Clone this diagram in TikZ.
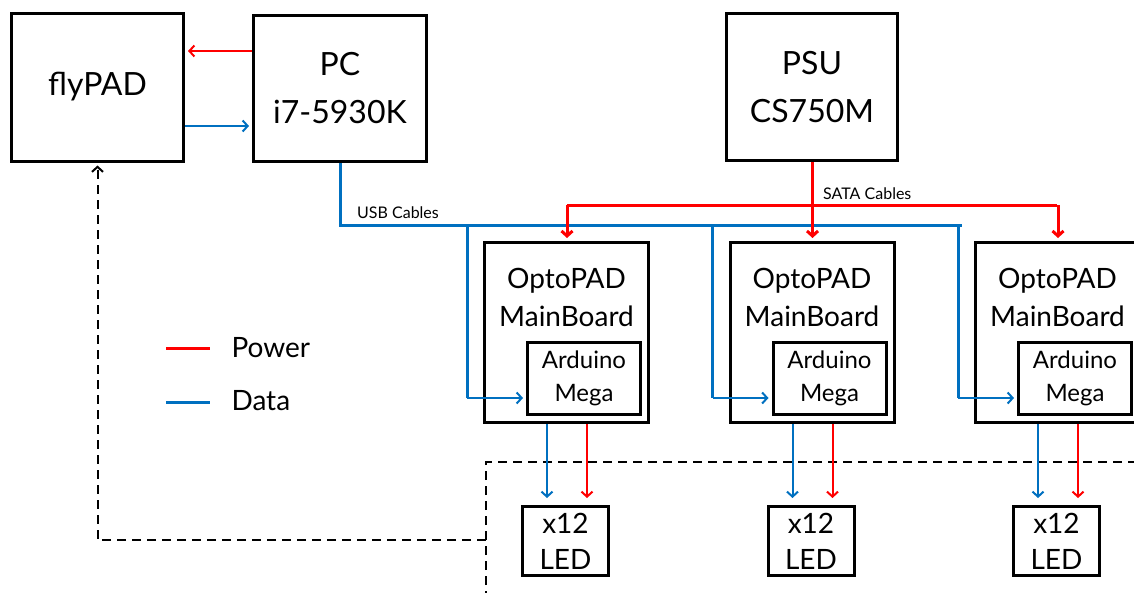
\documentclass[tikz,border=0pt]{standalone}
\usepackage{fontspec}
\setmainfont{Lato}
\usetikzlibrary{arrows.meta}
\definecolor{pwrred}{RGB}{255,0,0}
\definecolor{datblue}{RGB}{0,112,192}
\tikzset{
	box/.style={draw, line width=3pt, inner sep=0pt, align=center},
	pwr/.style={pwrred, line width=2pt},
	dat/.style={datblue, line width=2pt},
	cable/.style={line width=3pt},
	dsh/.style={line width=2pt, dash pattern=on 9pt off 6pt},
	bigtxt/.style={font=\fontsize{32}{48}\selectfont},
	midtxt/.style={font=\fontsize{28}{38}\selectfont},
	smalltxt/.style={font=\fontsize{24}{33}\selectfont},
	tinytxt/.style={font=\fontsize{16}{16}\selectfont, inner sep=0pt}
}
\begin{document}
\begin{tikzpicture}[x=1pt, y=-1pt, line join=miter, >={Straight Barb[length=5pt,width=11pt]}]
	\useasboundingbox (0,0) rectangle (1134,592);
	% top row
	\node[box, bigtxt, minimum width=172pt, minimum height=148pt] (flypad) at (97.5,87) {flyPAD};
	\node[box, bigtxt, minimum width=173pt, minimum height=146pt] (pc) at (340,88.5) {PC\\i7-5930K};
	\node[box, bigtxt, minimum width=171pt, minimum height=147pt] (psu) at (812,87) {PSU\\CS750M};
	% dashed frame
	\draw[dsh, ->] (486,540) -- (97.5,540) -- ([yshift=-3pt]flypad.south);
	\draw[dsh] (486,600) -- (486,462) -- (1140,462);
	% flyPAD <-> PC
	\draw[pwr, ->, shorten >=3pt] (pc.west |- 0,51) -- (flypad.east |- 0,51);
	\draw[dat, ->, shorten >=3pt] (flypad.east |- 0,126) -- (pc.west |- 0,126);
	% cables
	\path 
	(pc.south |- 0,225) coordinate (usb1)
	(962,225) coordinate (usb2)
	(psu.south |- 0,205) coordinate (sata1)
	(567,205) coordinate (sataL)
	(1057,205) coordinate (sataR)
	;
	\draw[dat, cable] (pc.south) -- (usb1) -- (usb2);
	\draw[pwr, cable] (psu.south) -- (sata1);
	\draw[pwr, cable] (sataL) -- (sataR);
	\node[tinytxt, anchor=south west] (usblab) at (357,219) {USB Cables};
	\node[tinytxt, anchor=south west] (satalab) at (823,200) {SATA Cables};
	% boards
	\foreach \i/\dx in {1/0,2/245.5,3/491}{
		\node[box, minimum width=164pt, minimum height=180pt] (mb\i) at (566.5+\dx,332.5) {};
		\node[midtxt, align=center] (mbt\i) at (566.5+\dx,297) {OptoPAD\\MainBoard};
		\node[box, smalltxt, minimum width=113pt, minimum height=72pt] (ard\i) at (584+\dx,378.5) {Arduino\\Mega};
		\node[box, midtxt, font=\fontsize{28}{36}\selectfont, minimum width=86pt, minimum height=69pt] (led\i) at (565.5+\dx,541) {x12\\LED};
		\draw[pwr, cable, ->, shorten >=3pt] (567+\dx,205) -- (mb\i.north -| 567+\dx,0);
		\draw[dat, cable] (467+\dx,225) -- (467+\dx,398);
		\draw[dat, ->, shorten >=3pt] (467+\dx,398) -- (ard\i.west |- 0,398);
		\draw[dat, ->, shorten >=7pt] (mb\i.south -| 547+\dx,0) -- (led\i.north -| 547+\dx,0);
		\draw[pwr, ->, shorten >=7pt] (mb\i.south -| 587+\dx,0) -- (led\i.north -| 587+\dx,0);
	}
	% legend
	\draw[pwr, cable] (166,348) -- (210,348);
	\draw[dat, cable] (166,402) -- (210,402);
	\node[midtxt, anchor=west] (lpow) at (228,348) {Power};
	\node[midtxt, anchor=west] (ldat) at (228,401) {Data};
\end{tikzpicture}
\end{document}
